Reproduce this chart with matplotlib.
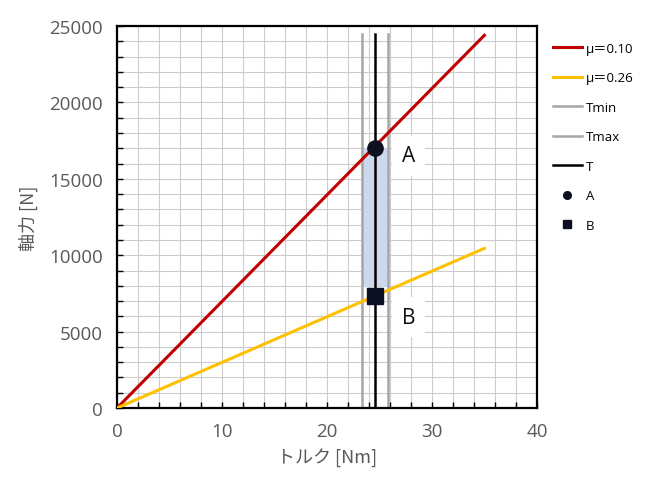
import matplotlib.pyplot as plt
from matplotlib.ticker import MultipleLocator

plt.rcParams['font.family'] = ['Open Sans', 'Noto Sans CJK JP', 'DejaVu Sans']

# data
torque = [0, 35]
force_mu010 = [0, 24400]
force_mu026 = [0, 10450]
t_min = 23.3
t_max = 25.8
t_val = 24.6
v_top = 24500
force_a = 17000
force_b = 7300
shade_low = 8000

fig = plt.figure(figsize=(6.5, 4.89), dpi=100)
ax = fig.add_axes([0.18, 0.1636, 0.646, 0.781])

ax.fill_between([t_min, t_max], shade_low, force_a, color='#cdd8ec', zorder=1)
ax.plot(torque, force_mu010, color='#c00000', lw=2.2, label='μ＝0.10', zorder=3)
ax.plot(torque, force_mu026, color='#ffc000', lw=2.2, label='μ＝0.26', zorder=3)
ax.plot([t_min, t_min], [0, v_top], color='#a6a6a6', lw=1.8, label='Tmin', zorder=2)
ax.plot([t_max, t_max], [0, v_top], color='#a6a6a6', lw=1.8, label='Tmax', zorder=2)
ax.plot([t_val, t_val], [0, v_top], color='black', lw=1.8, label='T', zorder=4)
ax.plot([t_val], [force_a], 'o', color='#0d1020', ms=11, label='A', zorder=5)
ax.plot([t_val], [force_b], 's', color='#0d1020', ms=11, label='B', zorder=5)

ax.text(27.8, 16500, 'A', fontsize=15, ha='center', va='center', color='#111111',
        bbox=dict(facecolor='white', edgecolor='none', pad=7), zorder=4)
ax.text(27.8, 5950, 'B', fontsize=15, ha='center', va='center', color='#111111',
        bbox=dict(facecolor='white', edgecolor='none', pad=7), zorder=4)

ax.set_xlim(0, 40)
ax.set_ylim(0, 25000)
ax.xaxis.set_major_locator(MultipleLocator(10))
ax.xaxis.set_minor_locator(MultipleLocator(2))
ax.yaxis.set_major_locator(MultipleLocator(5000))
ax.yaxis.set_minor_locator(MultipleLocator(1000))
ax.grid(which='both', color='#cccccc', lw=0.8, zorder=0)
ax.set_axisbelow(True)
ax.tick_params(which='both', direction='in', length=4, width=1, colors='black',
               labelcolor='#595959', labelsize=13.5, top=False, right=False)
ax.tick_params(axis='x', pad=10)
ax.tick_params(axis='y', pad=10)
for s in ax.spines.values():
    s.set_linewidth(1.6)
    s.set_color('black')

ax.set_xlabel('トルク [Nm]', fontsize=13, color='#595959', labelpad=6,
              family=['Noto Sans CJK JP', 'DejaVu Sans'])
ax.set_ylabel('軸力 [N]', fontsize=13, color='#595959', labelpad=8,
              family=['Noto Sans CJK JP', 'DejaVu Sans'])

ax.legend(loc='upper left', bbox_to_anchor=(1.01, 0.99), frameon=False,
          handlelength=2.2, handletextpad=0.3, labelspacing=1.25,
          markerscale=0.5,
          prop={'family': ['Open Sans', 'Noto Sans CJK JP', 'DejaVu Sans'], 'size': 9.5})

fig.savefig('out.png', dpi=100)
